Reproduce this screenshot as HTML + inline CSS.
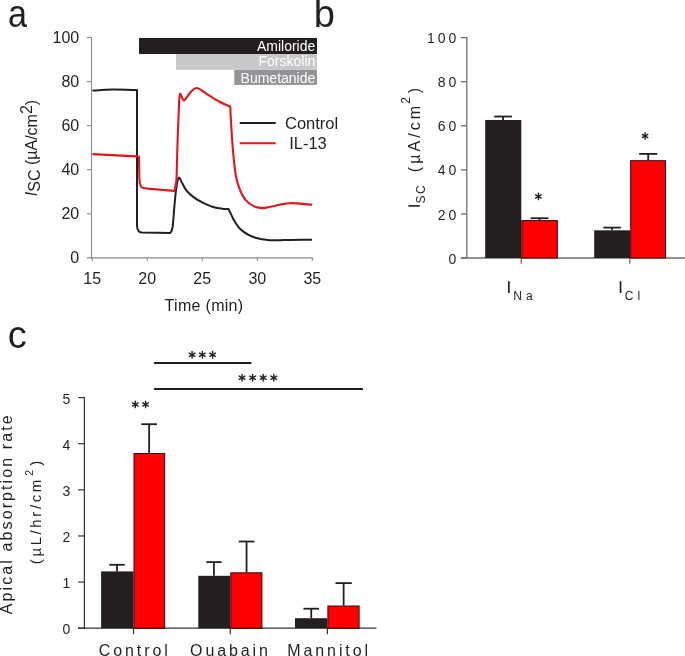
<!DOCTYPE html>
<html><head><meta charset="utf-8"><style>
html,body{margin:0;padding:0;background:#fff;width:685px;height:656px;overflow:hidden}
svg{display:block;will-change:transform}
text{font-family:"Liberation Sans", sans-serif}
</style></head><body>
<svg width="685" height="656" viewBox="0 0 685 656">
<rect width="685" height="656" fill="#fff"/>
<text transform="translate(7.9 26.6) scale(0.9 1)" font-size="38" fill="#231f20">a</text>
<text x="313.8" y="26.5" font-size="38" fill="#231f20">b</text>
<text x="7.8" y="348.3" font-size="38" fill="#231f20">c</text>
<rect x="139" y="38" width="178" height="16" fill="#231f20"/>
<rect x="176" y="54" width="141" height="15.8" fill="#c8c8ca"/>
<rect x="234.3" y="69.9" width="82.7" height="15" fill="#939497"/>
<text x="315.3" y="50.6" font-size="14" fill="#fff" text-anchor="end">Amiloride</text>
<text x="315.3" y="66.4" font-size="14" fill="#fff" text-anchor="end">Forskolin</text>
<text x="315.3" y="83.2" font-size="14" fill="#fff" text-anchor="end">Bumetanide</text>
<line x1="91.5" y1="37" x2="91.5" y2="258.4" stroke="#8a8a8a" stroke-width="1.1"/>
<line x1="86.8" y1="37.50" x2="91.5" y2="37.50" stroke="#8a8a8a" stroke-width="1.1"/>
<text x="79.2" y="43.00" font-size="16" fill="#231f20" text-anchor="end">100</text>
<line x1="86.8" y1="81.58" x2="91.5" y2="81.58" stroke="#8a8a8a" stroke-width="1.1"/>
<text x="79.2" y="87.08" font-size="16" fill="#231f20" text-anchor="end">80</text>
<line x1="86.8" y1="125.66" x2="91.5" y2="125.66" stroke="#8a8a8a" stroke-width="1.1"/>
<text x="79.2" y="131.16" font-size="16" fill="#231f20" text-anchor="end">60</text>
<line x1="86.8" y1="169.74" x2="91.5" y2="169.74" stroke="#8a8a8a" stroke-width="1.1"/>
<text x="79.2" y="175.24" font-size="16" fill="#231f20" text-anchor="end">40</text>
<line x1="86.8" y1="213.82" x2="91.5" y2="213.82" stroke="#8a8a8a" stroke-width="1.1"/>
<text x="79.2" y="219.32" font-size="16" fill="#231f20" text-anchor="end">20</text>
<text x="79.2" y="263.40" font-size="16" fill="#231f20" text-anchor="end">0</text>
<line x1="86.8" y1="257.9" x2="312.8" y2="257.9" stroke="#8a8a8a" stroke-width="1.1"/>
<line x1="92.20" y1="257.9" x2="92.20" y2="261" stroke="#8a8a8a" stroke-width="1.1"/>
<text x="92.20" y="283.8" font-size="16" fill="#231f20" text-anchor="middle">15</text>
<line x1="147.23" y1="257.9" x2="147.23" y2="261" stroke="#8a8a8a" stroke-width="1.1"/>
<text x="147.23" y="283.8" font-size="16" fill="#231f20" text-anchor="middle">20</text>
<line x1="202.25" y1="257.9" x2="202.25" y2="261" stroke="#8a8a8a" stroke-width="1.1"/>
<text x="202.25" y="283.8" font-size="16" fill="#231f20" text-anchor="middle">25</text>
<line x1="257.28" y1="257.9" x2="257.28" y2="261" stroke="#8a8a8a" stroke-width="1.1"/>
<text x="257.28" y="283.8" font-size="16" fill="#231f20" text-anchor="middle">30</text>
<line x1="312.30" y1="257.9" x2="312.30" y2="261" stroke="#8a8a8a" stroke-width="1.1"/>
<text x="312.30" y="283.8" font-size="16" fill="#231f20" text-anchor="middle">35</text>
<text x="164.6" y="311.2" font-size="16" fill="#231f20" letter-spacing="0.3">Time (min)</text>
<text transform="translate(36.9 196.2) rotate(-90)" font-size="16" fill="#231f20"><tspan font-style="italic">I</tspan><tspan dy="2.9">SC</tspan><tspan dy="-2.9"> (µA/cm</tspan><tspan dy="-5.2">2</tspan><tspan dy="5.2">)</tspan></text>
<line x1="239.7" y1="123.1" x2="275.7" y2="123.1" stroke="#231f20" stroke-width="2"/>
<line x1="239.7" y1="143.3" x2="275.7" y2="143.3" stroke="#e0161d" stroke-width="2"/>
<text x="285.0" y="128.8" font-size="16.5" fill="#231f20">Control</text>
<text x="289.2" y="149" font-size="16.5" fill="#231f20">IL-13</text>
<path d="M92.40 90.60 C95.77 90.43 105.22 89.70 112.60 89.60 C119.98 89.50 132.68 89.93 136.70 90.00 L137.0 90.0 L137.0 226.0 Q137.4 232.4 142 232.6 L170.3 233.0  C170.68 232.00 171.90 231.67 172.60 227.00 C173.30 222.33 173.88 211.50 174.50 205.00 C175.12 198.50 175.60 192.55 176.30 188.00 C177.00 183.45 177.70 178.48 178.70 177.70 C179.70 176.92 181.03 181.18 182.30 183.30 C183.57 185.42 184.43 188.10 186.30 190.40 C188.17 192.70 190.60 194.97 193.50 197.10 C196.40 199.23 200.30 201.50 203.70 203.20 C207.10 204.90 210.67 206.35 213.90 207.30 C217.13 208.25 220.68 208.62 223.10 208.90 C225.52 209.18 227.52 208.98 228.40 209.00  C228.77 209.72 229.83 211.72 230.60 213.30 C231.37 214.88 232.13 216.85 233.00 218.50 C233.87 220.15 234.72 221.58 235.80 223.20 C236.88 224.82 238.17 226.75 239.50 228.20 C240.83 229.65 242.22 230.73 243.80 231.90 C245.38 233.07 247.03 234.22 249.00 235.20 C250.97 236.18 253.43 237.12 255.60 237.80 C257.77 238.48 259.68 238.90 262.00 239.30 C264.32 239.70 266.50 240.05 269.50 240.20 C272.50 240.35 276.37 240.25 280.00 240.20 C283.63 240.15 285.95 239.97 291.30 239.90 C296.65 239.83 308.63 239.82 312.10 239.80" fill="none" stroke="#231f20" stroke-width="2" stroke-linejoin="round"/>
<path d="M92.4 154.1 L136.5 156.4 L138.9 156.5 L139.3 176  C139.45 177.42 139.50 182.50 140.20 184.50 C140.90 186.50 140.53 187.17 143.50 188.00 C146.47 188.83 152.82 189.02 158.00 189.50 C163.18 189.98 171.83 190.67 174.60 190.90 L176.5 180 L177.6 140 L179.2 100  C179.37 98.97 179.73 94.22 180.20 93.80 C180.67 93.38 181.32 96.40 182.00 97.50 C182.68 98.60 182.97 101.15 184.30 100.40 C185.63 99.65 187.95 95.07 190.00 93.00 C192.05 90.93 193.97 87.95 196.60 88.00 C199.23 88.05 202.07 91.05 205.80 93.30 C209.53 95.55 214.92 99.28 219.00 101.50 C223.08 103.72 228.42 105.75 230.30 106.60  C230.40 108.83 230.47 112.82 230.90 120.00 C231.33 127.18 232.08 140.47 232.90 149.70 C233.72 158.93 234.65 168.80 235.80 175.40 C236.95 182.00 238.15 185.17 239.80 189.30 C241.45 193.43 243.38 197.40 245.70 200.20 C248.02 203.00 250.88 204.78 253.70 206.10 C256.52 207.42 259.63 208.03 262.60 208.10 C265.57 208.17 267.05 207.32 271.50 206.50 C275.95 205.68 282.53 203.48 289.30 203.20 C296.07 202.92 308.30 204.53 312.10 204.80" fill="none" stroke="#e0161d" stroke-width="2.1" stroke-linejoin="round"/>
<line x1="466.8" y1="37" x2="466.8" y2="258.6" stroke="#6e6e6e" stroke-width="1.3"/>
<line x1="460.9" y1="37.60" x2="466.8" y2="37.60" stroke="#6e6e6e" stroke-width="1.3"/>
<text x="459.4" y="43.20" font-size="14" fill="#231f20" text-anchor="end" letter-spacing="3">100</text>
<line x1="460.9" y1="81.68" x2="466.8" y2="81.68" stroke="#6e6e6e" stroke-width="1.3"/>
<text x="459.4" y="87.28" font-size="14" fill="#231f20" text-anchor="end" letter-spacing="3">80</text>
<line x1="460.9" y1="125.76" x2="466.8" y2="125.76" stroke="#6e6e6e" stroke-width="1.3"/>
<text x="459.4" y="131.36" font-size="14" fill="#231f20" text-anchor="end" letter-spacing="3">60</text>
<line x1="460.9" y1="169.84" x2="466.8" y2="169.84" stroke="#6e6e6e" stroke-width="1.3"/>
<text x="459.4" y="175.44" font-size="14" fill="#231f20" text-anchor="end" letter-spacing="3">40</text>
<line x1="460.9" y1="213.92" x2="466.8" y2="213.92" stroke="#6e6e6e" stroke-width="1.3"/>
<text x="459.4" y="219.52" font-size="14" fill="#231f20" text-anchor="end" letter-spacing="3">20</text>
<line x1="460.9" y1="258.00" x2="466.8" y2="258.00" stroke="#6e6e6e" stroke-width="1.3"/>
<text x="459.4" y="263.60" font-size="14" fill="#231f20" text-anchor="end" letter-spacing="3">0</text>
<line x1="460.9" y1="258" x2="685" y2="258" stroke="#6e6e6e" stroke-width="1.3"/>
<line x1="521.30" y1="258" x2="521.30" y2="263.8" stroke="#6e6e6e" stroke-width="1.3"/>
<line x1="629.80" y1="258" x2="629.80" y2="263.8" stroke="#6e6e6e" stroke-width="1.3"/>
<line x1="503.05" y1="120.00" x2="503.05" y2="116.50" stroke="#231f20" stroke-width="1.80"/><line x1="494.20" y1="116.50" x2="511.90" y2="116.50" stroke="#231f20" stroke-width="1.80"/><rect x="485.20" y="120.00" width="36.10" height="138.00" fill="#231f20"/>
<line x1="539.50" y1="220.10" x2="539.50" y2="218.20" stroke="#231f20" stroke-width="1.80"/><line x1="530.60" y1="218.20" x2="548.40" y2="218.20" stroke="#231f20" stroke-width="1.80"/><rect x="521.80" y="220.60" width="35.50" height="37.40" fill="#ff0000" stroke="#3a0505" stroke-width="1"/>
<line x1="612.10" y1="230.30" x2="612.10" y2="227.60" stroke="#231f20" stroke-width="1.80"/><line x1="603.30" y1="227.60" x2="620.90" y2="227.60" stroke="#231f20" stroke-width="1.80"/><rect x="594.20" y="230.30" width="36.00" height="27.70" fill="#231f20"/>
<line x1="648.20" y1="160.20" x2="648.20" y2="153.90" stroke="#231f20" stroke-width="1.80"/><line x1="639.20" y1="153.90" x2="657.20" y2="153.90" stroke="#231f20" stroke-width="1.80"/><rect x="630.70" y="160.70" width="34.80" height="97.30" fill="#ff0000" stroke="#3a0505" stroke-width="1"/>
<line x1="538.40" y1="193.15" x2="538.40" y2="199.65" stroke="#231f20" stroke-width="1.40" stroke-linecap="round"/><line x1="535.59" y1="194.78" x2="541.21" y2="198.03" stroke="#231f20" stroke-width="1.40" stroke-linecap="round"/><line x1="535.59" y1="198.03" x2="541.21" y2="194.78" stroke="#231f20" stroke-width="1.40" stroke-linecap="round"/>
<line x1="645.00" y1="132.75" x2="645.00" y2="139.25" stroke="#231f20" stroke-width="1.40" stroke-linecap="round"/><line x1="642.19" y1="134.38" x2="647.81" y2="137.62" stroke="#231f20" stroke-width="1.40" stroke-linecap="round"/><line x1="642.19" y1="137.62" x2="647.81" y2="134.38" stroke="#231f20" stroke-width="1.40" stroke-linecap="round"/>
<rect x="508.0" y="281.2" width="1.7" height="11.8" fill="#231f20"/>
<text x="513.3" y="299.6" font-size="12" fill="#231f20" letter-spacing="4">Na</text>
<rect x="619.7" y="281.2" width="1.7" height="11.8" fill="#231f20"/>
<text x="624.8" y="299.8" font-size="12" fill="#231f20" letter-spacing="4">Cl</text>
<rect x="408.4" y="205.1" width="11.4" height="1.6" fill="#231f20"/>
<text transform="translate(424.60 203.60) rotate(-90)" font-size="12" fill="#231f20" letter-spacing="1.7">SC</text>
<text transform="translate(420.00 172.30) rotate(-90)" font-size="16" fill="#231f20" letter-spacing="3.1">(µA/cm</text>
<text transform="translate(409.70 103.80) rotate(-90)" font-size="12" fill="#231f20" letter-spacing="0">2</text>
<text transform="translate(420.00 93.20) rotate(-90)" font-size="16" fill="#231f20" letter-spacing="0">)</text>
<line x1="84.4" y1="396.9" x2="84.4" y2="628.8" stroke="#333333" stroke-width="1.2"/>
<line x1="78.1" y1="628.20" x2="84.4" y2="628.20" stroke="#333333" stroke-width="1.2"/>
<text x="70.3" y="634.30" font-size="14" fill="#231f20" text-anchor="end">0</text>
<line x1="78.1" y1="582.08" x2="84.4" y2="582.08" stroke="#333333" stroke-width="1.2"/>
<text x="70.3" y="588.18" font-size="14" fill="#231f20" text-anchor="end">1</text>
<line x1="78.1" y1="535.96" x2="84.4" y2="535.96" stroke="#333333" stroke-width="1.2"/>
<text x="70.3" y="542.06" font-size="14" fill="#231f20" text-anchor="end">2</text>
<line x1="78.1" y1="489.84" x2="84.4" y2="489.84" stroke="#333333" stroke-width="1.2"/>
<text x="70.3" y="495.94" font-size="14" fill="#231f20" text-anchor="end">3</text>
<line x1="78.1" y1="443.72" x2="84.4" y2="443.72" stroke="#333333" stroke-width="1.2"/>
<text x="70.3" y="449.82" font-size="14" fill="#231f20" text-anchor="end">4</text>
<line x1="78.1" y1="397.60" x2="84.4" y2="397.60" stroke="#333333" stroke-width="1.2"/>
<text x="70.3" y="403.70" font-size="14" fill="#231f20" text-anchor="end">5</text>
<line x1="78.1" y1="628.2" x2="376.4" y2="628.2" stroke="#333333" stroke-width="1.2"/>
<line x1="133.50" y1="628.2" x2="133.50" y2="634.3" stroke="#333333" stroke-width="1.2"/>
<line x1="230.30" y1="628.2" x2="230.30" y2="634.3" stroke="#333333" stroke-width="1.2"/>
<line x1="327.40" y1="628.2" x2="327.40" y2="634.3" stroke="#333333" stroke-width="1.2"/>
<line x1="117.00" y1="571.40" x2="117.00" y2="564.80" stroke="#231f20" stroke-width="1.80"/><line x1="109.30" y1="564.80" x2="124.70" y2="564.80" stroke="#231f20" stroke-width="1.80"/><rect x="101.10" y="571.40" width="32.40" height="56.80" fill="#231f20"/>
<line x1="149.15" y1="453.00" x2="149.15" y2="424.20" stroke="#231f20" stroke-width="1.80"/><line x1="141.30" y1="424.20" x2="157.00" y2="424.20" stroke="#231f20" stroke-width="1.80"/><rect x="134.00" y="453.50" width="30.70" height="174.70" fill="#ff0000" stroke="#3a0505" stroke-width="1"/>
<line x1="213.95" y1="575.80" x2="213.95" y2="562.10" stroke="#231f20" stroke-width="1.80"/><line x1="206.30" y1="562.10" x2="221.60" y2="562.10" stroke="#231f20" stroke-width="1.80"/><rect x="198.30" y="575.80" width="32.00" height="52.40" fill="#231f20"/>
<line x1="246.55" y1="572.30" x2="246.55" y2="541.50" stroke="#231f20" stroke-width="1.80"/><line x1="238.70" y1="541.50" x2="254.40" y2="541.50" stroke="#231f20" stroke-width="1.80"/><rect x="230.80" y="572.80" width="31.10" height="55.40" fill="#ff0000" stroke="#3a0505" stroke-width="1"/>
<line x1="311.25" y1="618.20" x2="311.25" y2="608.70" stroke="#231f20" stroke-width="1.80"/><line x1="303.40" y1="608.70" x2="319.10" y2="608.70" stroke="#231f20" stroke-width="1.80"/><rect x="295.00" y="618.20" width="32.40" height="10.00" fill="#231f20"/>
<line x1="343.65" y1="605.50" x2="343.65" y2="583.10" stroke="#231f20" stroke-width="1.80"/><line x1="335.50" y1="583.10" x2="351.80" y2="583.10" stroke="#231f20" stroke-width="1.80"/><rect x="327.90" y="606.00" width="31.20" height="22.20" fill="#ff0000" stroke="#3a0505" stroke-width="1"/>
<line x1="154.1" y1="363" x2="251.4" y2="363" stroke="#231f20" stroke-width="2"/>
<line x1="154.1" y1="389" x2="362.9" y2="389" stroke="#231f20" stroke-width="2"/>
<line x1="192.10" y1="351.45" x2="192.10" y2="357.95" stroke="#231f20" stroke-width="1.40" stroke-linecap="round"/><line x1="189.29" y1="353.07" x2="194.91" y2="356.32" stroke="#231f20" stroke-width="1.40" stroke-linecap="round"/><line x1="189.29" y1="356.32" x2="194.91" y2="353.07" stroke="#231f20" stroke-width="1.40" stroke-linecap="round"/>
<line x1="202.35" y1="351.45" x2="202.35" y2="357.95" stroke="#231f20" stroke-width="1.40" stroke-linecap="round"/><line x1="199.54" y1="353.07" x2="205.16" y2="356.32" stroke="#231f20" stroke-width="1.40" stroke-linecap="round"/><line x1="199.54" y1="356.32" x2="205.16" y2="353.07" stroke="#231f20" stroke-width="1.40" stroke-linecap="round"/>
<line x1="212.60" y1="351.45" x2="212.60" y2="357.95" stroke="#231f20" stroke-width="1.40" stroke-linecap="round"/><line x1="209.79" y1="353.07" x2="215.41" y2="356.32" stroke="#231f20" stroke-width="1.40" stroke-linecap="round"/><line x1="209.79" y1="356.32" x2="215.41" y2="353.07" stroke="#231f20" stroke-width="1.40" stroke-linecap="round"/>
<line x1="242.00" y1="374.45" x2="242.00" y2="380.95" stroke="#231f20" stroke-width="1.40" stroke-linecap="round"/><line x1="239.19" y1="376.07" x2="244.81" y2="379.32" stroke="#231f20" stroke-width="1.40" stroke-linecap="round"/><line x1="239.19" y1="379.32" x2="244.81" y2="376.07" stroke="#231f20" stroke-width="1.40" stroke-linecap="round"/>
<line x1="252.60" y1="374.45" x2="252.60" y2="380.95" stroke="#231f20" stroke-width="1.40" stroke-linecap="round"/><line x1="249.79" y1="376.07" x2="255.41" y2="379.32" stroke="#231f20" stroke-width="1.40" stroke-linecap="round"/><line x1="249.79" y1="379.32" x2="255.41" y2="376.07" stroke="#231f20" stroke-width="1.40" stroke-linecap="round"/>
<line x1="263.20" y1="374.45" x2="263.20" y2="380.95" stroke="#231f20" stroke-width="1.40" stroke-linecap="round"/><line x1="260.39" y1="376.07" x2="266.01" y2="379.32" stroke="#231f20" stroke-width="1.40" stroke-linecap="round"/><line x1="260.39" y1="379.32" x2="266.01" y2="376.07" stroke="#231f20" stroke-width="1.40" stroke-linecap="round"/>
<line x1="273.80" y1="374.45" x2="273.80" y2="380.95" stroke="#231f20" stroke-width="1.40" stroke-linecap="round"/><line x1="270.99" y1="376.07" x2="276.61" y2="379.32" stroke="#231f20" stroke-width="1.40" stroke-linecap="round"/><line x1="270.99" y1="379.32" x2="276.61" y2="376.07" stroke="#231f20" stroke-width="1.40" stroke-linecap="round"/>
<line x1="135.30" y1="401.15" x2="135.30" y2="407.65" stroke="#231f20" stroke-width="1.40" stroke-linecap="round"/><line x1="132.49" y1="402.77" x2="138.11" y2="406.02" stroke="#231f20" stroke-width="1.40" stroke-linecap="round"/><line x1="132.49" y1="406.02" x2="138.11" y2="402.77" stroke="#231f20" stroke-width="1.40" stroke-linecap="round"/>
<line x1="145.60" y1="401.15" x2="145.60" y2="407.65" stroke="#231f20" stroke-width="1.40" stroke-linecap="round"/><line x1="142.79" y1="402.77" x2="148.41" y2="406.02" stroke="#231f20" stroke-width="1.40" stroke-linecap="round"/><line x1="142.79" y1="406.02" x2="148.41" y2="402.77" stroke="#231f20" stroke-width="1.40" stroke-linecap="round"/>
<text x="134.75" y="655.5" font-size="16" fill="#231f20" text-anchor="middle" letter-spacing="2.9">Control</text>
<text x="230.45" y="655.5" font-size="16" fill="#231f20" text-anchor="middle" letter-spacing="2.9">Ouabain</text>
<text x="329.15" y="655.5" font-size="16" fill="#231f20" text-anchor="middle" letter-spacing="2.9">Mannitol</text>
<text transform="translate(11.7 513.7) rotate(-90)" font-size="16" fill="#231f20" text-anchor="middle" letter-spacing="2.1">Apical absorption rate</text>
<text transform="translate(40.6 564.2) rotate(-90)" font-size="15" fill="#231f20" letter-spacing="2.6">(µL/hr/cm<tspan font-size="10.5" dy="-7.5" dx="1.5">2</tspan><tspan dy="7.5" dx="1.5">)</tspan></text>
</svg>
</body></html>
